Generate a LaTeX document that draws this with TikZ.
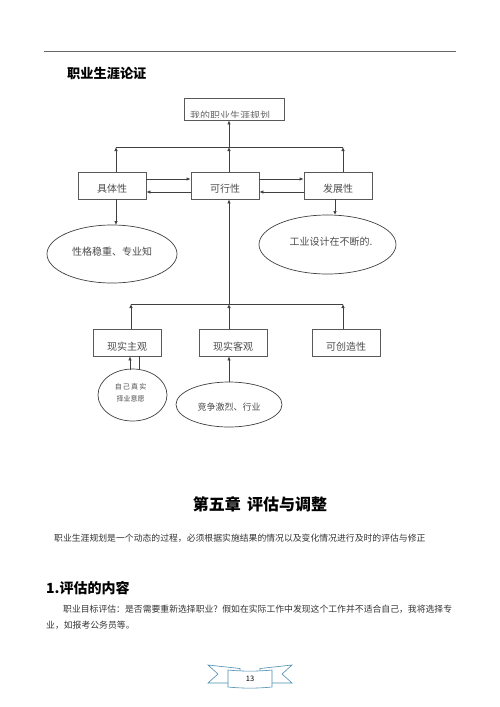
\documentclass[tikz,border=0pt]{standalone}
\usepackage{fontspec}
\setmainfont{Noto Sans CJK SC}
\usetikzlibrary{arrows.meta,shapes.geometric}
\begin{document}
\begin{tikzpicture}[x=1pt,y=-1pt,
  ln/.style={draw=black!75,line width=0.7pt},
  arr/.style={ln,-{Latex[length=4pt,width=3.5pt]}},
  box/.style={draw=black!65,line width=0.7pt,minimum width=68pt,minimum height=27pt,inner sep=0pt},
  ell/.style={ellipse,draw=black!75,line width=0.7pt,inner sep=0pt},
  lbl/.style={text=black!70,font=\fontsize{10}{12}\selectfont,inner sep=0pt},
  body/.style={text=black!80,font=\fontsize{8.84}{11}\selectfont,inner sep=0pt,anchor=west},
  ribbon/.style={draw=blue!35!cyan!40!gray,line width=0.6pt,fill=white}
]
\useasboundingbox (0,0) rectangle (500,707);
% header rule
\draw[draw=black!60,line width=0.8pt] (44,51) -- (456,51);
\node[font=\fontsize{13.2}{15}\selectfont\bfseries,anchor=west,inner sep=0pt] (title) at (67,73) {职业生涯论证};

% top box
\node[box,minimum width=100pt,minimum height=22pt] (top) at (234,109) {};
\begin{scope}
  \clip (184,98) rectangle (284,117);
  \node[lbl,text=black!60,font=\fontsize{10}{12}\selectfont] (toplbl) at (230,115.5) {我的职业生涯规划};
\end{scope}

% first row
\node[box] (b1) at (112,185.5) {};
\node[box] (b2) at (225,185.5) {};
\node[box] (b3) at (338,185.5) {};
\node[lbl] (b1t) at (112,189) {具体性};
\node[lbl] (b2t) at (225,189) {可行性};
\node[lbl] (b3t) at (338,189) {发展性};

\coordinate (h1a) at (116,147);
\coordinate (h1b) at (229,147);
\coordinate (h1c) at (343,147);
\draw[ln] (h1a) -- (h1c);
\draw[arr] (b1.north -| h1a) -- (h1a);
\draw[arr] (b2.north -| h1b) -- (h1b);
\draw[arr] (b3.north -| h1c) -- (h1c);
\draw[arr] (h1b) -- (top.south -| h1b);

% arrows between boxes
\draw[arr] ([yshift=6.5pt]b1.east) -- ([yshift=6.5pt]b2.west);
\draw[arr] ([yshift=-6.5pt]b2.west) -- ([yshift=-6.5pt]b1.east);
\draw[arr] ([yshift=6.5pt]b2.east) -- ([yshift=6.5pt]b3.west);
\draw[arr] ([yshift=-6.5pt]b3.west) -- ([yshift=-6.5pt]b2.east);

% ellipses first row
\node[ell,minimum width=130pt,minimum height=58pt] (e1) at (112,254) {};
\node[lbl] (e1t) at (112,252) {性格稳重、专业知};
\node[ell,minimum width=137pt,minimum height=59pt] (e2) at (327.5,244.5) {};
\node[lbl] (e2t) at (331,242) {工业设计在不断的.};
\coordinate (d1) at (116,225);
\coordinate (d2) at (335,215);
\draw[arr] (b1.south -| d1) -- (d1);
\draw[arr] (b3.south -| d2) -- (d2);

% second row
\node[box] (c1) at (127,342.5) {};
\node[box] (c2) at (233,342.5) {};
\node[box] (c3) at (346,342.5) {};
\node[lbl] (c1t) at (127,347) {现实主观};
\node[lbl] (c2t) at (233,347) {现实客观};
\node[lbl] (c3t) at (346,347) {可创造性};

\coordinate (h2a) at (131,304);
\coordinate (h2b) at (229,304);
\coordinate (h2c) at (343,304);
\draw[ln] (h2a) -- (h2c);
\draw[arr] (c1.north -| h2a) -- (h2a);
\draw[arr] (c2.north -| h2b) -- (h2b);
\draw[arr] (c3.north -| h2c) -- (h2c);
\draw[arr] (h2b) -- (b2.south -| h2b);

% ellipses second row
\node[ell,minimum width=69pt,minimum height=52pt] (e3) at (132.5,395) {};
\node[lbl,font=\fontsize{7}{9}\selectfont,align=center] (e3t) at (130.5,393) {自\,己\,真\,实\\[3pt]择业意愿};
\node[ell,minimum width=106pt,minimum height=45pt] (e4) at (229,404.5) {};
\node[lbl,font=\fontsize{9}{11}\selectfont] (e4t) at (229,407) {竞争激烈、行业};
\coordinate (u1) at (130,369.5);
\coordinate (u2) at (139,369.5);
\coordinate (u3) at (229,382);
\draw[arr] (u1) -- (c1.south -| u1);
\draw[ln] (u2) -- (c1.south -| u2);
\draw[arr] (u3) -- (c2.south -| u3);

% chapter text
\node[font=\fontsize{16}{19}\selectfont\bfseries,inner sep=0pt] (ch) at (260,504) {第五章\hspace{0.4em}评估与调整};
\node[body] (p1) at (54,538) {职业生涯规划是一个动态的过程，必须根据实施结果的情况以及变化情况进行及时的评估与修正};
\node[font=\fontsize{14}{17}\selectfont\bfseries,anchor=west,inner sep=0pt] (sec) at (46,588) {1.评估的内容};
\node[body] (p2a) at (63,609) {职业目标评估：是否需要重新选择职业？假如在实际工作中发现这个工作并不适合自己，我将选择专};
\node[body] (p2b) at (46,625) {业，如报考公务员等。};

% page number ribbon
\draw[ribbon] (208,665) -- (240,668.5) -- (240,683) -- (208,683) -- (218,674) -- cycle;
\draw[ribbon] (292,665) -- (260,668.5) -- (260,683) -- (292,683) -- (282,674) -- cycle;
\draw[ribbon] (228,670) .. controls (243,671.5) and (257,671.5) .. (272,670) -- (272,687) .. controls (257,688.5) and (243,688.5) .. (228,687) -- cycle;
\node[font=\fontsize{7.5}{9}\selectfont,inner sep=0pt] (pg) at (250,679) {13};
\end{tikzpicture}
\end{document}
